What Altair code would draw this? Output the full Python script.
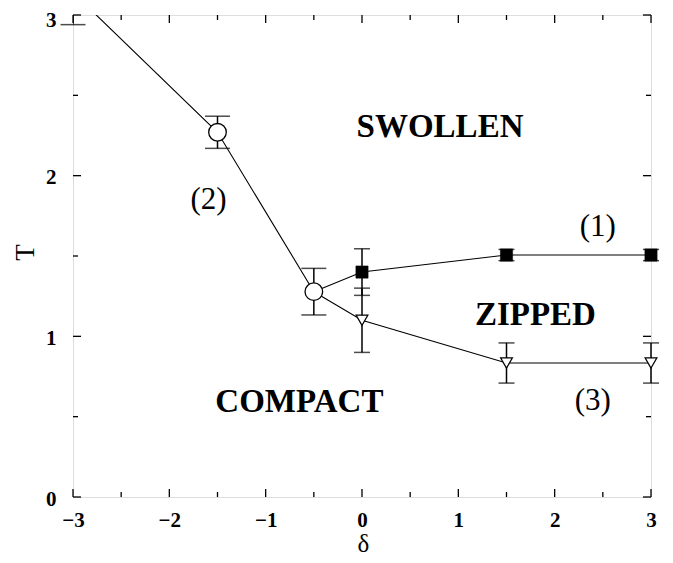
import altair as alt
import pandas as pd

W, H = 578, 482
FONT = "Liberation Serif"

# series (1): filled squares
sq_x = [0.0, 1.5, 3.0]
sq_T = [1.40, 1.506, 1.506]
sq_err = [0.145, 0.035, 0.035]
# series (2): open circles
ci_x = [-3.0, -1.5, -0.5]
ci_T = [3.14, 2.27, 1.278]
ci_err = [0.20, 0.10, 0.145]
# series (3): open down-triangles
tr_x = [0.0, 1.5, 3.0]
tr_T = [1.10, 0.834, 0.834]
tr_err = [0.20, 0.125, 0.125]

# region labels
word_text = ["SWOLLEN", "ZIPPED", "COMPACT"]
word_x = [0.81, 1.80, -0.65]
word_T = [2.306, 1.133, 0.594]
num_text = ["(1)", "(2)", "(3)"]
num_x = [2.447, -1.593, 2.395]
num_T = [1.68, 1.848, 0.597]

# axis ticks
major_x = [-3, -2, -1, 0, 1, 2, 3]
minor_x = [-2.5, -1.5, -0.5, 0.5, 1.5, 2.5]
major_T = [0, 1, 2, 3]
minor_T = [0.5, 1.5, 2.5]

xs = alt.Scale(domain=[-3, 3], nice=False, zero=False)
ys = alt.Scale(domain=[0, 3], nice=False, zero=False)

xaxis = alt.Axis(values=major_x, format="d", title="δ", grid=False, ticks=False, tickSize=0,
                 domain=False, labelFont=FONT, labelFontSize=21, labelFontWeight="bold",
                 labelColor="black", labelPadding=12, labelFlush=False,
                 titleFont=FONT, titleFontSize=25, titleFontWeight="normal", titleColor="black",
                 titleX=290, titleY=54, titleBaseline="alphabetic", titleAlign="center")
yaxis = alt.Axis(values=major_T, format="d", title="T", grid=False, ticks=False, tickSize=0,
                 domain=False, labelFont=FONT, labelFontSize=21, labelFontWeight="bold",
                 labelColor="black", labelPadding=17, labelFlush=False,
                 labelOffset={"condition": {"test": "datum.value == 3", "value": 5.5}, "value": 2},
                 titleFont=FONT, titleFontSize=27, titleFontWeight="normal", titleColor="black",
                 titleX=-48, titleY=237, titleAngle=270, titleBaseline="middle", titleAlign="center")


def X(f):
    return alt.X(f, type="quantitative", scale=xs, axis=xaxis)


def Y(f):
    return alt.Y(f, type="quantitative", scale=ys, axis=yaxis)


def pts(xv, tv, ev):
    return pd.DataFrame({"x": xv, "T": tv, "lo": [t - e for t, e in zip(tv, ev)],
                         "hi": [t + e for t, e in zip(tv, ev)]})


sq = pts(sq_x, sq_T, sq_err)
ci = pts(ci_x, ci_T, ci_err)
tr = pts(tr_x, tr_T, tr_err)

line_df = pd.concat([
    pd.DataFrame({"x": ci_x, "T": ci_T, "s": "2", "o": range(3)}),
    pd.DataFrame({"x": [ci_x[-1]] + sq_x, "T": [ci_T[-1]] + sq_T, "s": "1", "o": range(4)}),
    pd.DataFrame({"x": [ci_x[-1]] + tr_x, "T": [ci_T[-1]] + tr_T, "s": "3", "o": range(4)}),
])

lines = alt.Chart(line_df).mark_line(color="black", strokeWidth=1.1, clip=True).encode(
    x=X("x"), y=Y("T"), detail="s:N", order="o:Q")

layers = [lines]
for df, cap, clip_hi in [(ci, 25, True), (sq, 16, False), (tr, 16, False)]:
    base = alt.Chart(df)
    layers.append(base.mark_rule(color="black", strokeWidth=1.5, clip=clip_hi).encode(
        x=X("x"), y=Y("lo"), y2="hi"))
    layers.append(base.mark_tick(orient="horizontal", size=cap, thickness=1.5, color="black",
                                 clip=False).encode(x=X("x"), y=Y("lo")))
    layers.append(base.mark_tick(orient="horizontal", size=cap, thickness=1.5, color="black",
                                 clip=clip_hi).encode(x=X("x"), y=Y("hi")))

layers.append(alt.Chart(ci).mark_point(shape="circle", filled=True, fill="white", stroke="black",
                                       strokeWidth=1.3, size=310, opacity=1, clip=True).encode(
    x=X("x"), y=Y("T")))
layers.append(alt.Chart(sq).mark_point(shape="square", filled=True, fill="black", stroke="black",
                                       strokeWidth=0.5, size=150, opacity=1, clip=False).encode(
    x=X("x"), y=Y("T")))
layers.append(alt.Chart(tr).mark_point(shape="triangle-down", filled=True, fill="white",
                                       stroke="black", strokeWidth=1.2, size=140, opacity=1,
                                       clip=False).encode(x=X("x"), y=Y("T")))

words = pd.DataFrame({"t": word_text, "x": word_x, "T": word_T})
nums = pd.DataFrame({"t": num_text, "x": num_x, "T": num_T})
layers.append(alt.Chart(words).mark_text(font=FONT, fontSize=33, fontWeight="bold", color="black",
                                         align="center", baseline="middle").encode(
    x=X("x"), y=Y("T"), text="t:N"))
layers.append(alt.Chart(nums).mark_text(font=FONT, fontSize=31, fontWeight="normal", color="black",
                                        align="center", baseline="middle").encode(
    x=X("x"), y=Y("T"), text="t:N"))

# inward ticks on all four sides
tx_major = pd.DataFrame({"v": major_x})
tx_minor = pd.DataFrame({"v": minor_x})
ty_major = pd.DataFrame({"v": major_T})
ty_minor = pd.DataFrame({"v": minor_T})
for df, ln in [(tx_major, 8), (tx_minor, 5)]:
    b = alt.Chart(df).mark_rule(color="black", strokeWidth=1.3)
    layers.append(b.encode(x=X("v"), y=alt.value(H), y2=alt.value(H - ln)))
    layers.append(b.encode(x=X("v"), y=alt.value(0), y2=alt.value(ln)))
for df, ln in [(ty_major, 8), (ty_minor, 5)]:
    b = alt.Chart(df).mark_rule(color="black", strokeWidth=1.3)
    layers.append(b.encode(y=Y("v"), x=alt.value(0), x2=alt.value(ln)))
    layers.append(b.encode(y=Y("v"), x=alt.value(W), x2=alt.value(W - ln)))

chart = alt.layer(*layers).properties(
    width=W, height=H,
    autosize=alt.AutoSizeParams(type="none"),
    padding={"left": 65, "top": 7, "right": 10, "bottom": 58},
).configure_view(stroke="black", strokeWidth=1.5).configure(background="white")

chart.save("out.html", embed_options={"renderer": "svg", "actions": False})
